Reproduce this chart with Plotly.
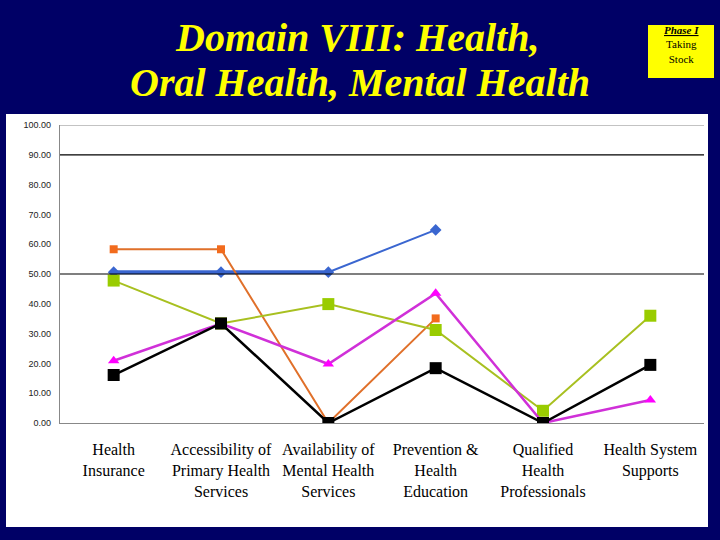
import plotly.graph_objects as go

categories = ["Health<br>Insurance", "Accessibility of<br>Primary Health<br>Services",
              "Availability of<br>Mental Health<br>Services", "Prevention &<br>Health<br>Education",
              "Qualified<br>Health<br>Professionals", "Health System<br>Supports"]
blue_thick = [50.6, 50.6, 50.6, None, None, None]
blue = [50.6, 50.6, 50.6, 64.8, None, None]
orange = [58.3, 58.3, 0.0, 35.1, None, None]
green = [47.8, 33.4, 39.9, 31.2, 4.1, 36.0]
magenta = [20.9, 33.4, 19.8, 43.5, 0.0, 7.7]
black = [16.1, 33.4, 0.0, 18.4, 0.0, 19.5]
ytick_vals = [0, 10, 20, 30, 40, 50, 60, 70, 80, 90, 100]
title_lines = ["Domain VIII: Health,", "Oral Health, Mental Health"]

W, H = 720, 540
L, R, T, B = 60, 16, 125, 117
PW, PH = W - L - R, H - T - B

def px(x):
    return (x - L) / PW

def py(y):
    return (H - B - y) / PH

xs = list(range(len(categories)))
fig = go.Figure()
fig.add_trace(go.Scatter(x=xs, y=blue_thick, mode="lines", line=dict(color="#3A66D0", width=4), hoverinfo="skip"))
fig.add_trace(go.Scatter(x=xs, y=blue, mode="lines+markers", line=dict(color="#3A66D0", width=2),
                         marker=dict(symbol="diamond", size=9, color="#3A66D0")))
fig.add_trace(go.Scatter(x=xs, y=orange, mode="lines+markers", line=dict(color="#E0702A", width=2),
                         marker=dict(symbol="square", size=8, color="#F26B1D")))
fig.add_trace(go.Scatter(x=xs, y=green, mode="lines+markers", line=dict(color="#A8C020", width=2),
                         marker=dict(symbol="square", size=12, color="#99CC00")))
fig.add_trace(go.Scatter(x=xs, y=magenta, mode="lines+markers", line=dict(color="#D030D8", width=2.5),
                         marker=dict(symbol="triangle-up", size=10, color="#FF00FF")))
fig.add_trace(go.Scatter(x=xs, y=black, mode="lines+markers", line=dict(color="#000000", width=2.5),
                         marker=dict(symbol="square", size=12, color="#000000")))

shapes = [
    dict(type="rect", xref="paper", yref="paper", x0=px(6), x1=px(708), y0=py(527), y1=py(114),
         fillcolor="white", line=dict(width=0), layer="below"),
    dict(type="line", xref="paper", yref="y", x0=0, x1=1, y0=100, y1=100, line=dict(color="#888888", width=1.2)),
    dict(type="line", xref="paper", yref="y", x0=0, x1=1, y0=90, y1=90, line=dict(color="#000000", width=1.2)),
    dict(type="line", xref="paper", yref="y", x0=0, x1=1, y0=50, y1=50, line=dict(color="#000000", width=1.2)),
    dict(type="rect", xref="paper", yref="paper", x0=px(648), x1=px(714), y0=py(78), y1=py(25),
         fillcolor="#FFFF00", line=dict(width=0), layer="below"),
]

annotations = [
    dict(text="<b><i>%s</i></b>" % title_lines[0], xref="paper", yref="paper",
         x=px(357), y=py(37), showarrow=False, xanchor="center", yanchor="middle",
         font=dict(family="Liberation Serif", size=40, color="#FFFF00")),
    dict(text="<b><i>%s</i></b>" % title_lines[1], xref="paper", yref="paper",
         x=px(360), y=py(82), showarrow=False, xanchor="center", yanchor="middle",
         font=dict(family="Liberation Serif", size=40, color="#FFFF00")),
    dict(text="<b><i><u>Phase I</u></i></b><br>Taking<br>Stock", xref="paper", yref="paper",
         x=px(681), y=py(45), showarrow=False, xanchor="center", yanchor="middle",
         font=dict(family="Liberation Serif", size=11, color="#000000")),
]

fig.update_layout(
    width=W, height=H, margin=dict(l=L, r=R, t=T, b=B),
    paper_bgcolor="#000066", plot_bgcolor="white", showlegend=False,
    shapes=shapes, annotations=annotations,
    xaxis=dict(range=[-0.5, 5.5], tickvals=xs, ticktext=categories, showgrid=False, zeroline=False,
               showline=True, linecolor="#888888", linewidth=1.2, ticks="", ticklabelstandoff=12,
               tickfont=dict(family="Liberation Serif", size=16, color="#000000")),
    yaxis=dict(range=[0, 100], tickvals=ytick_vals, tickformat=".2f", showgrid=False, zeroline=False,
               showline=True, linecolor="#888888", linewidth=1.2, ticks="", ticklabelstandoff=6,
               tickfont=dict(family="Liberation Sans", size=9, color="#222222")),
)
fig.write_html("out.html", config={"displayModeBar": False},
               post_script="document.body.style.margin='0';")
